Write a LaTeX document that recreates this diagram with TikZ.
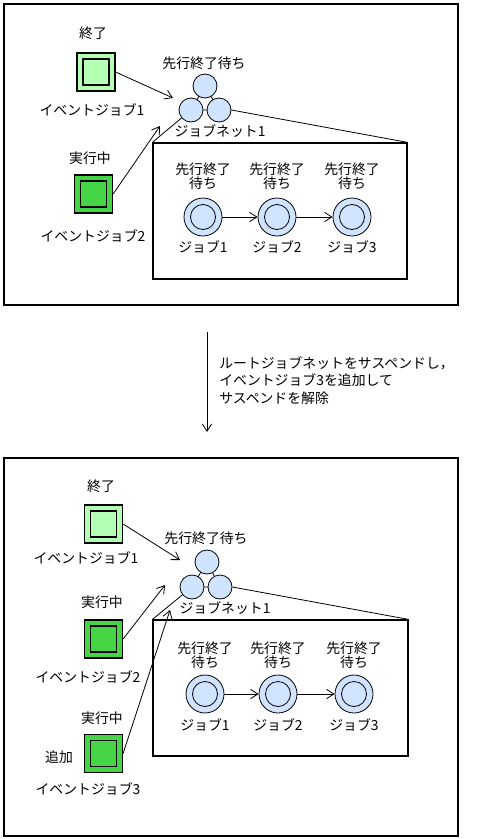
\documentclass[tikz,border=0pt]{standalone}
\usepackage{fontspec}
\setmainfont{Noto Sans CJK JP}
\usetikzlibrary{arrows.meta}
\definecolor{lgreen}{HTML}{B3FFB3}
\definecolor{dgreen}{HTML}{44D444}
\definecolor{lblue}{HTML}{D0E4FF}
\begin{document}
\begin{tikzpicture}[x=0.75pt,y=-0.75pt,
  font=\fontsize{10.4}{11.5}\selectfont,
  every node/.style={inner sep=0pt},
  frame/.style={draw,line width=0.9pt},
  conn/.style={line width=0.6pt},
  arr/.style={line width=0.6pt,-{Straight Barb[length=5.5pt,width=7pt]}},
  evout/.style={draw,line width=0.9pt,minimum size=28.5pt},
  evin/.style={draw,line width=0.9pt,minimum size=19.5pt},
  netc/.style={draw,line width=0.6pt,fill=lblue,circle,minimum size=18pt},
  jobout/.style={draw,line width=0.6pt,fill=lblue,circle,minimum size=28.5pt},
  jobin/.style={draw,line width=0.6pt,circle,minimum size=18.75pt},
  txt/.style={text=black}]
\useasboundingbox (0,0) rectangle (476,839);
% ---------- top panel ----------
\draw[frame] (4,4) rectangle (458,305);
\node[txt] (t1) at (93,33) {終了};
\node[evout,fill=lgreen] (ae1) at (96,72) {};
\node[evin,fill=lgreen] (ae1i) at (ae1) {};
\node[txt] (tl1) at (92,110) {イベントジョブ1};
\node[txt] (t2) at (90,158) {実行中};
\node[evout,fill=dgreen] (ae2) at (93.5,194) {};
\node[evin,fill=dgreen] (ae2i) at (ae2) {};
\node[txt] (tl2) at (93,236) {イベントジョブ2};
\node[txt] (tw) at (204,63) {先行終了待ち};
\coordinate (ac1p) at (205,86);
\coordinate (ac2p) at (191,110);
\coordinate (ac3p) at (219,110);
\draw[conn] (ac1p) -- (ac2p) -- (ac3p) -- cycle;
\node[netc] (ac1) at (ac1p) {};
\node[netc] (ac2) at (ac2p) {};
\node[netc] (ac3) at (ac3p) {};
\node[txt] (tn) at (220,131) {ジョブネット1};
\node[frame,minimum width=190.5pt,minimum height=102pt] (abox) at (280,211) {};
\draw[conn] (ac2) -- (abox.north west);
\draw[conn] (ac3.east) -- (abox.north east);
\coordinate (aa1) at (173,98);
\coordinate (aa2) at (160,126);
\draw[arr] (ae1.east) -- (aa1);
\draw[arr] (ae2.east) -- (aa2);
\foreach \i/\x in {1/203,2/277,3/352}{
  \node[txt,align=center] (aw\i) at (\x,176) {先行終了\\[-1pt]待ち};
  \node[jobout] (aj\i) at (\x,217) {};
  \node[jobin] (aji\i) at (\x,217) {};
  \node[txt] (ajl\i) at (\x,247) {ジョブ\i};
}
\draw[arr] (aj1) -- (aj2);
\draw[arr] (aj2) -- (aj3);
% ---------- middle ----------
\coordinate (m1) at (207,332);
\coordinate (m2) at (207,432);
\draw[arr] (m1) -- (m2);
\node[txt,anchor=west,align=left] (mt) at (219,380.5) {ルートジョブネットをサスペンドし，\\[1.6pt]イベントジョブ3を追加して\\[1.6pt]サスペンドを解除};
% ---------- bottom panel ----------
\draw[frame] (4,458) rectangle (458,836);
\node[txt] (b1) at (101,486) {終了};
\node[evout,fill=lgreen] (be1) at (103.5,524) {};
\node[evin,fill=lgreen] (be1i) at (be1) {};
\node[txt] (bl1) at (86,558) {イベントジョブ1};
\node[txt] (b2) at (102,602) {実行中};
\node[evout,fill=dgreen] (be2) at (103.5,639) {};
\node[evin,fill=dgreen] (be2i) at (be2) {};
\node[txt] (bl2) at (88,677) {イベントジョブ2};
\node[txt] (b3) at (102,718) {実行中};
\node[evout,fill=dgreen] (be3) at (103.5,753.5) {};
\node[evin,fill=dgreen] (be3i) at (be3) {};
\node[txt] (badd) at (59,757) {追加};
\node[txt] (bl3) at (88,789) {イベントジョブ3};
\node[txt] (bw) at (206,538) {先行終了待ち};
\coordinate (bc1p) at (207,562);
\coordinate (bc2p) at (192,587);
\coordinate (bc3p) at (220,587);
\draw[conn] (bc1p) -- (bc2p) -- (bc3p) -- cycle;
\node[netc] (bc1) at (bc1p) {};
\node[netc] (bc2) at (bc2p) {};
\node[netc] (bc3) at (bc3p) {};
\node[txt] (bn) at (225,608) {ジョブネット1};
\node[frame,minimum width=191.25pt,minimum height=102pt] (bbox) at (280.5,688) {};
\draw[conn] (bc2) -- (bbox.north west);
\draw[conn] (bc3.east) -- (bbox.north east);
\coordinate (ba1) at (180,560);
\coordinate (ba2) at (165,585);
\coordinate (ba3) at (170,610);
\draw[arr] (be1.east) -- (ba1);
\draw[arr] (be2.east) -- (ba2);
\draw[arr] (be3.east) -- (ba3);
\foreach \i/\x in {1/205,2/278,3/354}{
  \node[txt,align=center] (bw\i) at (\x,655) {先行終了\\[-1pt]待ち};
  \node[jobout] (bj\i) at (\x,694) {};
  \node[jobin] (bji\i) at (\x,694) {};
  \node[txt] (bjl\i) at (\x,725) {ジョブ\i};
}
\draw[arr] (bj1) -- (bj2);
\draw[arr] (bj2) -- (bj3);
\end{tikzpicture}
\end{document}
